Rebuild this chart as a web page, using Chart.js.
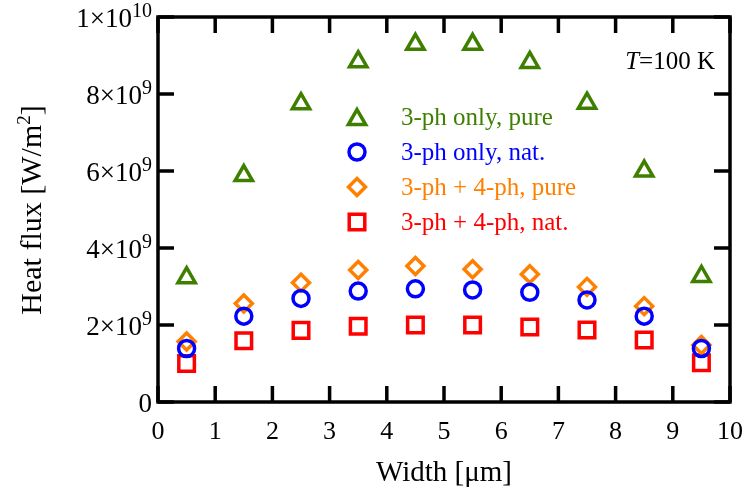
<!DOCTYPE html>
<html lang="en">
<head>
  <meta charset="UTF-8">
  <title>Heat flux vs width</title>
  <script src="https://cdn.jsdelivr.net/npm/chart.js@4/dist/chart.umd.min.js"></script>
  <style>
    html, body {
      margin: 0;
      padding: 0;
      background: white;
      overflow: hidden;
    }
    #wrap {
      width: 750px;
      height: 493px;
    }
  </style>
</head>
<body>
  <div id="wrap"><canvas id="fluxChart"></canvas></div>

  <script>
    // ribbon width [um]
    const widths = [0.5, 1.5, 2.5, 3.5, 4.5, 5.5, 6.5, 7.5, 8.5, 9.5];

    // heat flux [W/m^2] at T = 100 K
    const pure3ph   = [3.23e9, 5.88e9, 7.75e9, 8.84e9, 9.29e9, 9.29e9, 8.82e9, 7.76e9, 6.00e9, 3.26e9];
    const nat3ph    = [1.39e9, 2.23e9, 2.69e9, 2.88e9, 2.94e9, 2.91e9, 2.85e9, 2.65e9, 2.23e9, 1.39e9];
    const pure34ph  = [1.57e9, 2.56e9, 3.10e9, 3.43e9, 3.53e9, 3.45e9, 3.32e9, 2.99e9, 2.49e9, 1.48e9];
    const nat34ph   = [1.00e9, 1.59e9, 1.86e9, 1.97e9, 2.00e9, 2.00e9, 1.95e9, 1.87e9, 1.61e9, 1.02e9];

    const seriesLabels = ['3-ph only, pure', '3-ph only, nat.', '3-ph + 4-ph, pure', '3-ph + 4-ph, nat.'];

    // y tick labels: mantissa and exponent, "0" has none
    const yTickValues = [0, 2e9, 4e9, 6e9, 8e9, 1e10];
    const yTickMant   = ['0', '2\u00d710', '4\u00d710', '6\u00d710', '8\u00d710', '1\u00d710'];
    const yTickExp    = ['', '9', '9', '9', '9', '10'];

    const SERIF = '"Liberation Serif", "Times New Roman", serif';
    const GREEN = '#3f7f00';
    const BLUE = '#0000ff';
    const ORANGE = '#ff8000';
    const RED = '#ff0000';
    const MARK_W = 3.5;

    const styles = [
      { color: GREEN,  pointStyle: 'triangle', radius: 10 },
      { color: BLUE,   pointStyle: 'circle',   radius: 8 },
      { color: ORANGE, pointStyle: 'rectRot',  radius: 8.5 },
      { color: RED,    pointStyle: 'rect',     radius: 11 }
    ];
    const seriesData = [pure3ph, nat3ph, pure34ph, nat34ph];

    function toPoints(ys) {
      return widths.map((w, i) => ({ x: w, y: ys[i] }));
    }

    // text made of plain and superscript pieces
    function runsWidth(ctx, runs, size, supSize) {
      let w = 0;
      runs.forEach(r => {
        ctx.font = (r.sup ? supSize : size) + 'px ' + SERIF;
        w += ctx.measureText(r.t).width;
      });
      return w;
    }

    function drawRuns(ctx, runs, x, y, size, supSize, rise) {
      ctx.textAlign = 'left';
      ctx.textBaseline = 'alphabetic';
      runs.forEach(r => {
        ctx.font = (r.sup ? supSize : size) + 'px ' + SERIF;
        ctx.fillText(r.t, x, r.sup ? y - rise : y);
        x += ctx.measureText(r.t).width;
      });
      return x;
    }

    const framePlugin = {
      id: 'frame',
      afterDraw(chart) {
        const { ctx, chartArea: a, scales: { x, y } } = chart;
        const TICK = 16;
        ctx.save();

        // box with inward ticks on all sides
        ctx.strokeStyle = '#000';
        ctx.lineWidth = 3.5;
        ctx.strokeRect(a.left, a.top, a.right - a.left, a.bottom - a.top);
        ctx.beginPath();
        x.ticks.forEach(t => {
          const px = x.getPixelForValue(t.value);
          ctx.moveTo(px, a.bottom); ctx.lineTo(px, a.bottom - TICK);
          ctx.moveTo(px, a.top);    ctx.lineTo(px, a.top + TICK);
        });
        yTickValues.forEach(v => {
          const py = y.getPixelForValue(v);
          ctx.moveTo(a.left, py);  ctx.lineTo(a.left + TICK, py);
          ctx.moveTo(a.right, py); ctx.lineTo(a.right - TICK, py);
        });
        ctx.stroke();

        // y tick labels with exponents
        ctx.fillStyle = '#000';
        yTickValues.forEach((v, i) => {
          const py = y.getPixelForValue(v);
          const runs = [{ t: yTickMant[i] }];
          if (yTickExp[i]) runs.push({ t: yTickExp[i], sup: true });
          const w = runsWidth(ctx, runs, 27, 20);
          drawRuns(ctx, runs, a.left - 6 - w, py + 10, 27, 20, 10);
        });

        // axis titles
        ctx.font = '29px ' + SERIF;
        ctx.textAlign = 'center';
        ctx.textBaseline = 'alphabetic';
        ctx.fillText('Width [\u03bcm]', (a.left + a.right) / 2, 481);

        const yTitle = [{ t: 'Heat flux [W/m' }, { t: '2', sup: true }, { t: ']' }];
        const tw = runsWidth(ctx, yTitle, 30, 19);
        ctx.save();
        ctx.translate(41, 210);
        ctx.rotate(-Math.PI / 2);
        drawRuns(ctx, yTitle, -tw / 2, 0, 30, 19, 11);
        ctx.restore();

        // temperature note
        ctx.font = '25px ' + SERIF;
        const restW = ctx.measureText('=100 K').width;
        ctx.font = 'italic 25px ' + SERIF;
        const tW = ctx.measureText('T').width;
        const tx = a.right - 15 - restW - tW;
        ctx.textAlign = 'left';
        ctx.fillText('T', tx, 69);
        ctx.font = '25px ' + SERIF;
        ctx.fillText('=100 K', tx + tW, 69);

        // legend
        seriesLabels.forEach((label, i) => {
          const s = styles[i];
          const rowY = 117 + 35 * i;
          const dy = s.pointStyle === 'triangle' ? s.radius / 4 : 0;
          ctx.strokeStyle = s.color;
          ctx.fillStyle = 'rgba(0,0,0,0)';
          ctx.lineWidth = MARK_W;
          Chart.helpers.drawPoint(ctx, {
            pointStyle: s.pointStyle, radius: s.radius, rotation: 0, borderWidth: MARK_W
          }, 357, rowY + dy);
          ctx.fillStyle = s.color;
          ctx.font = '25px ' + SERIF;
          ctx.fillText(label, 401, rowY + 8);
        });

        ctx.restore();
      }
    };

    const fluxChart = new Chart(document.getElementById('fluxChart'), {
      type: 'scatter',
      data: {
        datasets: seriesData.map((ys, i) => ({
          label: seriesLabels[i],
          data: toPoints(ys),
          pointStyle: styles[i].pointStyle,
          pointRadius: styles[i].radius,
          pointBorderWidth: MARK_W,
          borderColor: styles[i].color,
          backgroundColor: 'rgba(0,0,0,0)',
          pointHoverRadius: styles[i].radius,
          showLine: false
        }))
      },
      options: {
        responsive: true,
        maintainAspectRatio: false,
        animation: false,
        layout: { padding: { top: 17, right: 17, left: 0, bottom: 0 } },
        plugins: {
          legend: { display: false },
          tooltip: { enabled: false }
        },
        scales: {
          x: {
            type: 'linear',
            min: 0,
            max: 10,
            grid: { display: false },
            border: { display: false },
            ticks: {
              stepSize: 1,
              padding: 7,
              color: '#000',
              font: { family: SERIF, size: 26 }
            },
            afterFit: s => { s.height = 91; }
          },
          y: {
            type: 'linear',
            min: 0,
            max: 1e10,
            grid: { display: false },
            border: { display: false },
            ticks: { stepSize: 2e9, display: false },
            afterFit: s => { s.width = 158; }
          }
        }
      },
      plugins: [framePlugin]
    });
  </script>
</body>
</html>
